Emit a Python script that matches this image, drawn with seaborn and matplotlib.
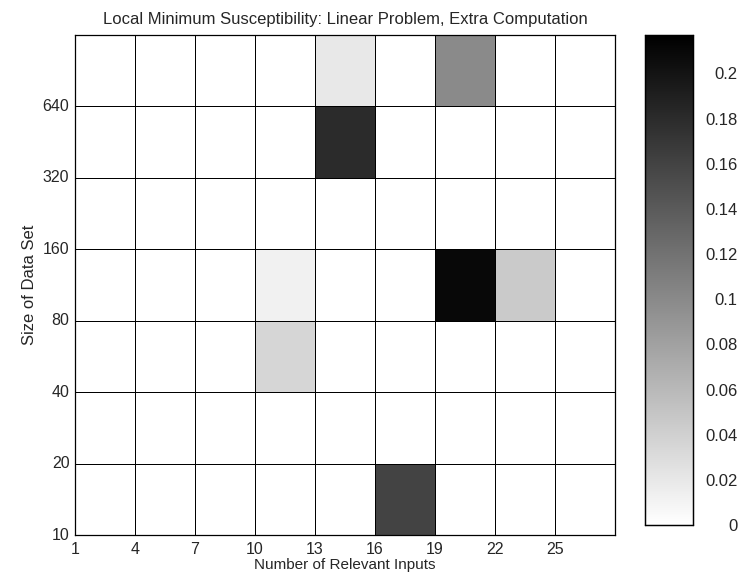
import numpy as np
import matplotlib
matplotlib.use("Agg")
import matplotlib.pyplot as plt
import seaborn as sns

sns.set_style("white")
plt.rcParams["font.family"] = ["Liberation Sans", "DejaVu Sans"]

# Number of relevant inputs (columns) and data-set sizes (rows, bottom to top)
inputs = [1, 4, 7, 10, 13, 16, 19, 22, 25]
sizes = [10, 20, 40, 80, 160, 320, 640]

# Susceptibility, one row per data-set size, listed top row first
row_top = [0, 0, 0, 0, 0.02, 0, 0.10, 0, 0]        # largest set (above 640)
row_640 = [0, 0, 0, 0, 0.18, 0, 0, 0, 0]
row_320 = [0, 0, 0, 0, 0, 0, 0, 0, 0]
row_160 = [0, 0, 0, 0.012, 0, 0, 0.21, 0.045, 0]
row_80 = [0, 0, 0, 0.035, 0, 0, 0, 0, 0]
row_40 = [0, 0, 0, 0, 0, 0, 0, 0, 0]
row_20 = [0, 0, 0, 0, 0, 0.16, 0, 0, 0]

values = np.array([row_top, row_640, row_320, row_160, row_80, row_40, row_20])

fig = plt.figure(figsize=(7.45, 5.79), dpi=100)
ax = fig.add_axes([75 / 745, 1 - 535 / 579, 540 / 745, 500 / 579])
cax = fig.add_axes([645 / 745, 1 - 525 / 579, 48 / 745, 490 / 579])

sns.heatmap(values, ax=ax, cbar_ax=cax, cmap="gray_r", vmin=0, vmax=0.217,
            linewidths=0.7, linecolor="black", square=False)

n_rows = values.shape[0]
ax.set_xticks(np.arange(len(inputs)))
ax.set_xticklabels([str(v) for v in inputs], rotation=0, fontsize=11.5)
ax.set_yticks(np.arange(n_rows, 0, -1))
ax.set_yticklabels([str(v) for v in sizes], rotation=0, fontsize=11.5)
ax.tick_params(axis="x", length=0, pad=5)
ax.tick_params(axis="y", length=0, pad=4)
for s in ax.spines.values():
    s.set_visible(True)
    s.set_color("black")
    s.set_linewidth(0.9)

ax.set_xlabel("Number of Relevant Inputs", fontsize=11, labelpad=1)
ax.set_ylabel("Size of Data Set", fontsize=12, labelpad=4)
ax.set_title("Local Minimum Susceptibility: Linear Problem, Extra Computation",
             fontsize=12, pad=8)

cb_ticks = [0, 0.02, 0.04, 0.06, 0.08, 0.1, 0.12, 0.14, 0.16, 0.18, 0.2]
cax.set_yticks(cb_ticks)
cax.set_yticklabels([f"{t:g}" for t in cb_ticks], fontsize=12)
cax.tick_params(axis="y", length=0, pad=32)
for lbl in cax.get_yticklabels():
    lbl.set_horizontalalignment("right")
for s in cax.spines.values():
    s.set_visible(True)
    s.set_color("black")
    s.set_linewidth(0.9)

fig.savefig("out.png", dpi=100)
